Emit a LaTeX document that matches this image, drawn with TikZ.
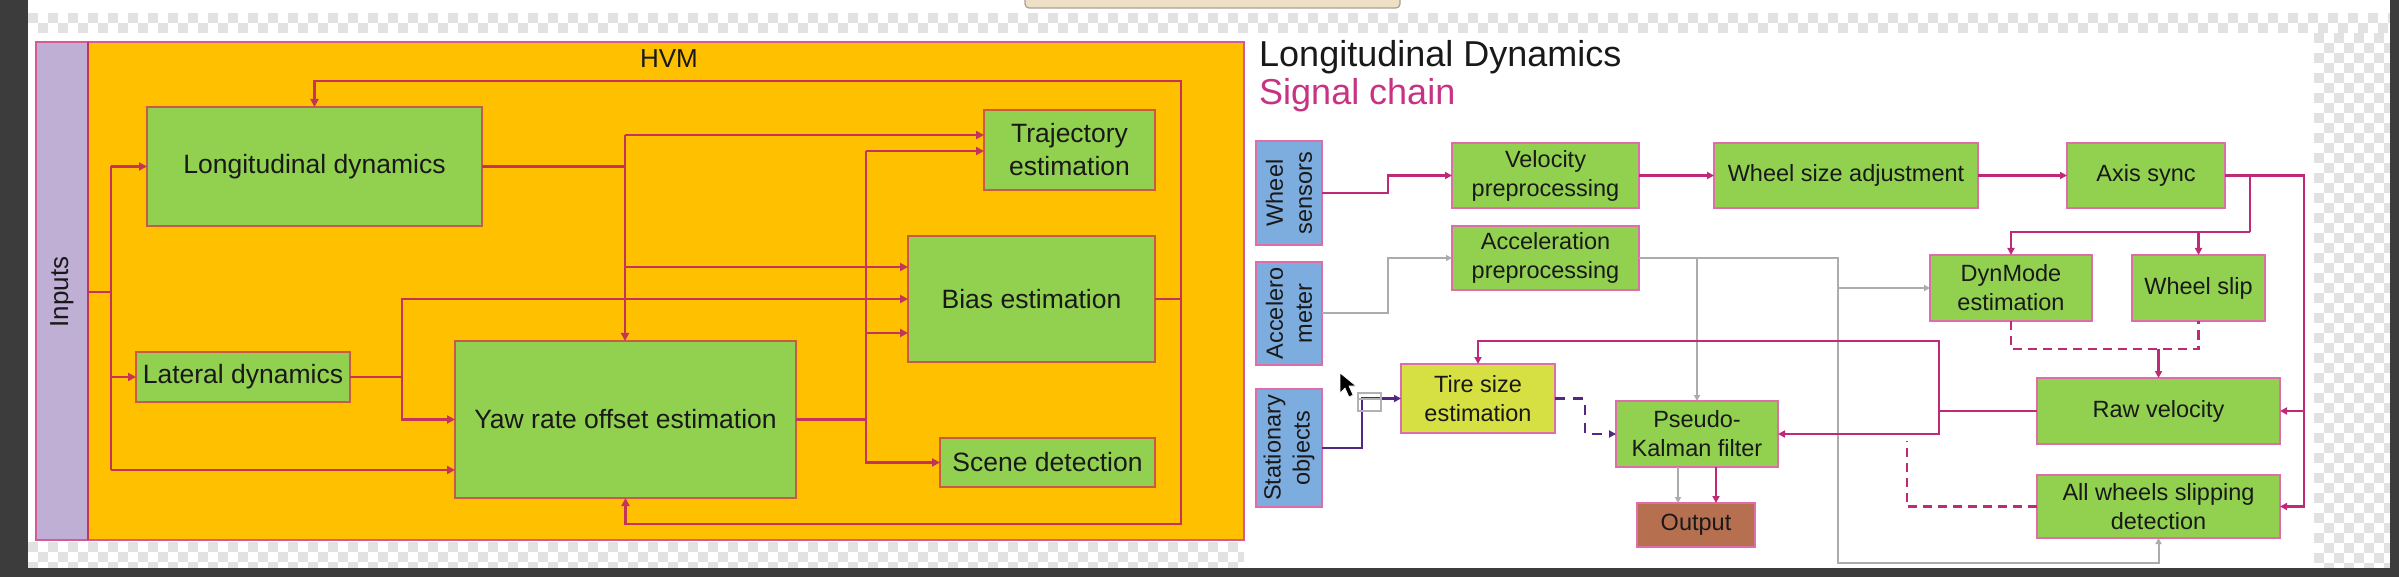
\documentclass[tikz,border=0pt]{standalone}
\usepackage{fontspec}
\setmainfont{Liberation Sans}
\usetikzlibrary{arrows.meta,calc}
\definecolor{darkbg}{RGB}{60,60,60}
\definecolor{chk}{RGB}{226,226,226}
\definecolor{hvmor}{RGB}{255,192,0}
\definecolor{hvmbd}{RGB}{214,90,150}
\definecolor{lgreen}{RGB}{146,208,80}
\definecolor{lbord}{RGB}{200,90,70}
\definecolor{lln}{RGB}{196,52,88}
\definecolor{inpur}{RGB}{192,175,212}
\definecolor{rbord}{RGB}{222,110,170}
\definecolor{rmag}{RGB}{192,40,120}
\definecolor{sigc}{RGB}{200,50,130}
\definecolor{rblue}{RGB}{125,172,222}
\definecolor{tirey}{RGB}{214,224,66}
\definecolor{outbr}{RGB}{182,112,80}
\definecolor{ppl}{RGB}{82,40,130}
\definecolor{gln}{RGB}{172,172,172}
\definecolor{txt}{RGB}{25,25,25}
\definecolor{btnf}{RGB}{238,224,198}
\definecolor{btnd}{RGB}{170,160,145}
\newcommand{\lfnt}{\fontsize{26.5}{33}\selectfont}
\newcommand{\rfnt}{\fontsize{23.5}{29}\selectfont}
\begin{document}
\begin{tikzpicture}[x=1pt,y=-1pt,
  lbox/.style={draw=lbord, fill=lgreen, line width=1.5pt, inner sep=0pt, outer sep=0pt, align=center, font=\lfnt, text=txt},
  rbox/.style={draw=rbord, fill=lgreen, line width=1.5pt, inner sep=0pt, outer sep=0pt, align=center, font=\rfnt, text=txt},
  bbox/.style={rbox, fill=rblue},
  rtext/.style={rotate=90, align=center, font=\rfnt, text=txt, inner sep=0pt},
  lline/.style={draw=lln, line width=2.5pt},
  larrow/.style={lline, -{Triangle[length=8pt,width=8pt]}},
  rline/.style={draw=rmag, line width=2.8pt},
  rarrow/.style={rline, -{Triangle[length=7pt,width=7pt]}},
  rdash/.style={rline, dash pattern=on 9pt off 6pt},
  pline/.style={draw=ppl, line width=2.8pt},
  parrow/.style={pline, -{Triangle[length=7pt,width=7pt]}},
  gline/.style={draw=gln, line width=2pt},
  garrow/.style={gline, -{Triangle[length=6pt,width=6pt]}}
]
\useasboundingbox (0,0) rectangle (2399,577);
\fill[white] (0,0) rectangle (2399,577);
% checker bands
\begin{scope}
\clip (28,13) rectangle (2390,33);
\foreach \x in {28,48,...,2388} {\fill[chk] (\x,13) rectangle ++(10,10); \fill[chk] (\x+10,23) rectangle ++(10,10);}
\end{scope}
\begin{scope}
\clip (2314,33) rectangle (2390,568);
\foreach \y in {33,53,...,553} {\foreach \x in {2314,2334,...,2374} {\fill[chk] (\x,\y) rectangle ++(10,10); \fill[chk] (\x+10,\y+10) rectangle ++(10,10);}}
\end{scope}
\begin{scope}
\clip (28,542) rectangle (1244,568);
\foreach \x in {28,48,...,1228} {\fill[chk] (\x,542) rectangle ++(10,10); \fill[chk] (\x+10,552) rectangle ++(10,10); \fill[chk] (\x,562) rectangle ++(10,10);}
\end{scope}
\fill[darkbg] (0,0) rectangle (28,577);
\fill[darkbg] (2390,0) rectangle (2399,577);
\fill[darkbg] (0,568) rectangle (2399,577);
\draw[fill=btnf, draw=btnd, line width=1.2pt, rounded corners=4pt] (1025,-6) rectangle (1400,8);

% ================= LEFT: HVM =================
\draw[fill=hvmor, draw=hvmbd, line width=1.2pt] (36,42) rectangle (1244,540);
\node[draw=hvmbd, fill=inpur, line width=1.2pt, minimum width=52pt, minimum height=498pt, inner sep=0pt, outer sep=0pt] (inp) at (62,291) {};
\draw[lln, line width=2.2pt] (inp.north east) -- (inp.south east);
\node[rotate=90, font=\fontsize{26}{30}\selectfont, text=txt, inner sep=0pt] (inpt) at (62,292) {Inputs};
\node[font=\fontsize{26}{30}\selectfont, text=txt, inner sep=0pt] (hvm) at (669,58.5) {HVM};

\node[lbox, minimum width=335pt, minimum height=119pt] (long) at (314.5,166.5) {Longitudinal dynamics};
\node[lbox, minimum width=171pt, minimum height=80pt] (traj) at (1069.5,150) {Trajectory\\estimation};
\node[lbox, minimum width=247pt, minimum height=126pt] (bias) at (1031.5,299) {Bias estimation};
\node[lbox, minimum width=214pt, minimum height=50pt] (lat) at (243,377) {Lateral dynamics};
\node[lbox, minimum width=341pt, minimum height=157pt] (yaw) at (625.5,419.5) {Yaw rate offset estimation};
\node[lbox, minimum width=215pt, minimum height=49pt] (scene) at (1047.5,462.5) {Scene detection};

% inputs fan-out
\coordinate (jin) at (111,292);
\coordinate (yin2) at (455,470);
\draw[lline] (inp.east |- jin) -- (jin);
\draw[lline] (long.west -| jin) -- (yin2 -| jin);
\draw[larrow] (long.west -| jin) -- (long.west);
\draw[larrow] (lat.west -| jin) -- (lat.west);
\draw[larrow] (yin2 -| jin) -- (yin2);
% lateral outputs
\coordinate (latj) at (402,299);
\draw[lline] (lat.east) -- (lat.east -| latj);
\draw[larrow] (lat.east -| latj) |- (yaw.west);
\draw[larrow] (lat.east -| latj) -- (latj) -- (bias.west |- latj);
% longitudinal outputs
\coordinate (lj) at (625,135);
\coordinate (b1) at (908,267);
\draw[lline] (long.east) -- (long.east -| lj);
\draw[larrow] (lj) -- (lj |- yaw.north);
\draw[larrow] (lj) -- (traj.west |- lj);
\draw[larrow] (b1 -| lj) -- (b1);
% yaw outputs
\coordinate (yj) at (866,151);
\coordinate (b3) at (908,333);
\draw[lline] (yaw.east) -- (yaw.east -| yj);
\draw[larrow] (yj) |- (scene.west);
\draw[larrow] (yj) -- (traj.west |- yj);
\draw[larrow] (b3 -| yj) -- (b3);
% feedback
\coordinate (fbR) at (1181,81);
\coordinate (fbB) at (1181,524);
\draw[larrow] (bias.east) -| (fbR) -| (long.north);
\draw[larrow] (bias.east -| fbB) -- (fbB) -| (yaw.south);

% ================= RIGHT: signal chain =================
\node[anchor=base west, font=\fontsize{36}{40}\selectfont, text=txt, inner sep=0pt] (title) at (1259,67) {Longitudinal Dynamics};
\node[anchor=base west, font=\fontsize{36}{40}\selectfont, text=sigc, inner sep=0pt] (subtitle) at (1259,105) {Signal chain};

\node[bbox, minimum width=66pt, minimum height=104pt] (ws) at (1289,193) {};
\node[rtext] (wst) at (ws.center) {Wheel\\sensors};
\node[bbox, minimum width=66pt, minimum height=103pt] (acc) at (1289,313.5) {};
\node[rtext] (acct) at (acc.center) {Accelero\\meter};
\node[bbox, minimum width=66pt, minimum height=118pt] (so) at (1289,448) {};
\node[rtext] (sot) at (so.center) {Stationary\\objects};

\node[rbox, minimum width=187pt, minimum height=65pt] (vp) at (1545.5,175.5) {Velocity\\preprocessing};
\node[rbox, minimum width=187pt, minimum height=64pt] (ap) at (1545.5,258) {Acceleration\\preprocessing};
\node[rbox, minimum width=264pt, minimum height=65pt] (wsa) at (1846,175.5) {Wheel size adjustment};
\node[rbox, minimum width=158pt, minimum height=65pt] (ax) at (2146,175.5) {Axis sync};
\node[rbox, minimum width=162pt, minimum height=66pt] (dm) at (2011,288) {DynMode\\estimation};
\node[rbox, minimum width=133pt, minimum height=66pt] (wslip) at (2198.5,288) {Wheel slip};
\node[rbox, minimum width=243pt, minimum height=66pt] (rv) at (2158.5,411) {Raw velocity};
\node[rbox, minimum width=243pt, minimum height=63pt] (aw) at (2158.5,506.5) {All wheels slipping\\detection};
\node[rbox, fill=tirey, minimum width=154pt, minimum height=69pt] (tire) at (1478,398.5) {Tire size\\estimation};
\node[rbox, minimum width=162pt, minimum height=66pt] (pk) at (1697,434) {Pseudo-\\Kalman filter};
\node[rbox, fill=outbr, minimum width=118pt, minimum height=44pt] (out) at (1696,525) {Output};

% gray signal paths
\coordinate (gR) at (1838,258);
\coordinate (gB) at (1838,563);
\draw[garrow] (acc.east) -- ++(66,0) |- (ap.west);
\draw[garrow] (ap.east) -- (gR) -- (gB) -| (aw.south);
\draw[garrow] (gR |- dm.west) -- (dm.west);
\draw[garrow] (ap.east -| pk.north) -- (pk.north);
\draw[garrow] ([xshift=-19pt]pk.south) -- ([xshift=-19pt]pk.south |- out.north);

% magenta signal paths
\draw[rarrow] (ws.east) -- ++(66,0) |- (vp.west);
\draw[rarrow] (vp.east) -- (wsa.west);
\draw[rarrow] (wsa.east) -- (ax.west);
\coordinate (axR) at (2304,175.5);
\coordinate (axB) at (2250,232);
\draw[rarrow] (ax.east) -- (axR) |- (aw.east);
\draw[rarrow] (axR |- rv.east) -- (rv.east);
\draw[rline] (ax.east -| axB) -- (axB);
\draw[rarrow] (axB) -| (dm.north);
\draw[rarrow] (axB -| wslip.north) -- (wslip.north);
\coordinate (dj) at (2158.5,349);
\draw[rdash] (dm.south) |- (dj -| wslip.south) -- (wslip.south);
\draw[rarrow] (dj) -- (rv.north);
\coordinate (rvj) at (1939,341);
\draw[rline] (rv.west) -- (rv.west -| rvj);
\draw[rarrow] (rv.west -| rvj) -- (rvj) -| (tire.north);
\draw[rarrow] (rv.west -| rvj) |- (pk.east);
\coordinate (awj) at (1907,441);
\draw[rdash] (aw.west) -| (awj);
\draw[rarrow] ([xshift=19pt]pk.south) -- ([xshift=19pt]pk.south |- out.north);

% purple paths
\draw[parrow] (so.east) -- ++(40,0) |- (tire.west);
\draw[parrow, dash pattern=on 10pt off 8pt] (tire.east) -- ++(30,0) |- (pk.west);

% selection handle and cursor
\draw[gray!60, line width=1.6pt] (1358,393) rectangle (1381,411);
\draw[gray!60, line width=1.2pt] (1358,399) -- (1381,399);
\fill[black, draw=white, line width=0.6pt] (1340,373) -- (1340,393) -- (1345,388) -- (1349,397) -- (1353,395) -- (1349,386) -- (1356,386) -- cycle;
\end{tikzpicture}
\end{document}
